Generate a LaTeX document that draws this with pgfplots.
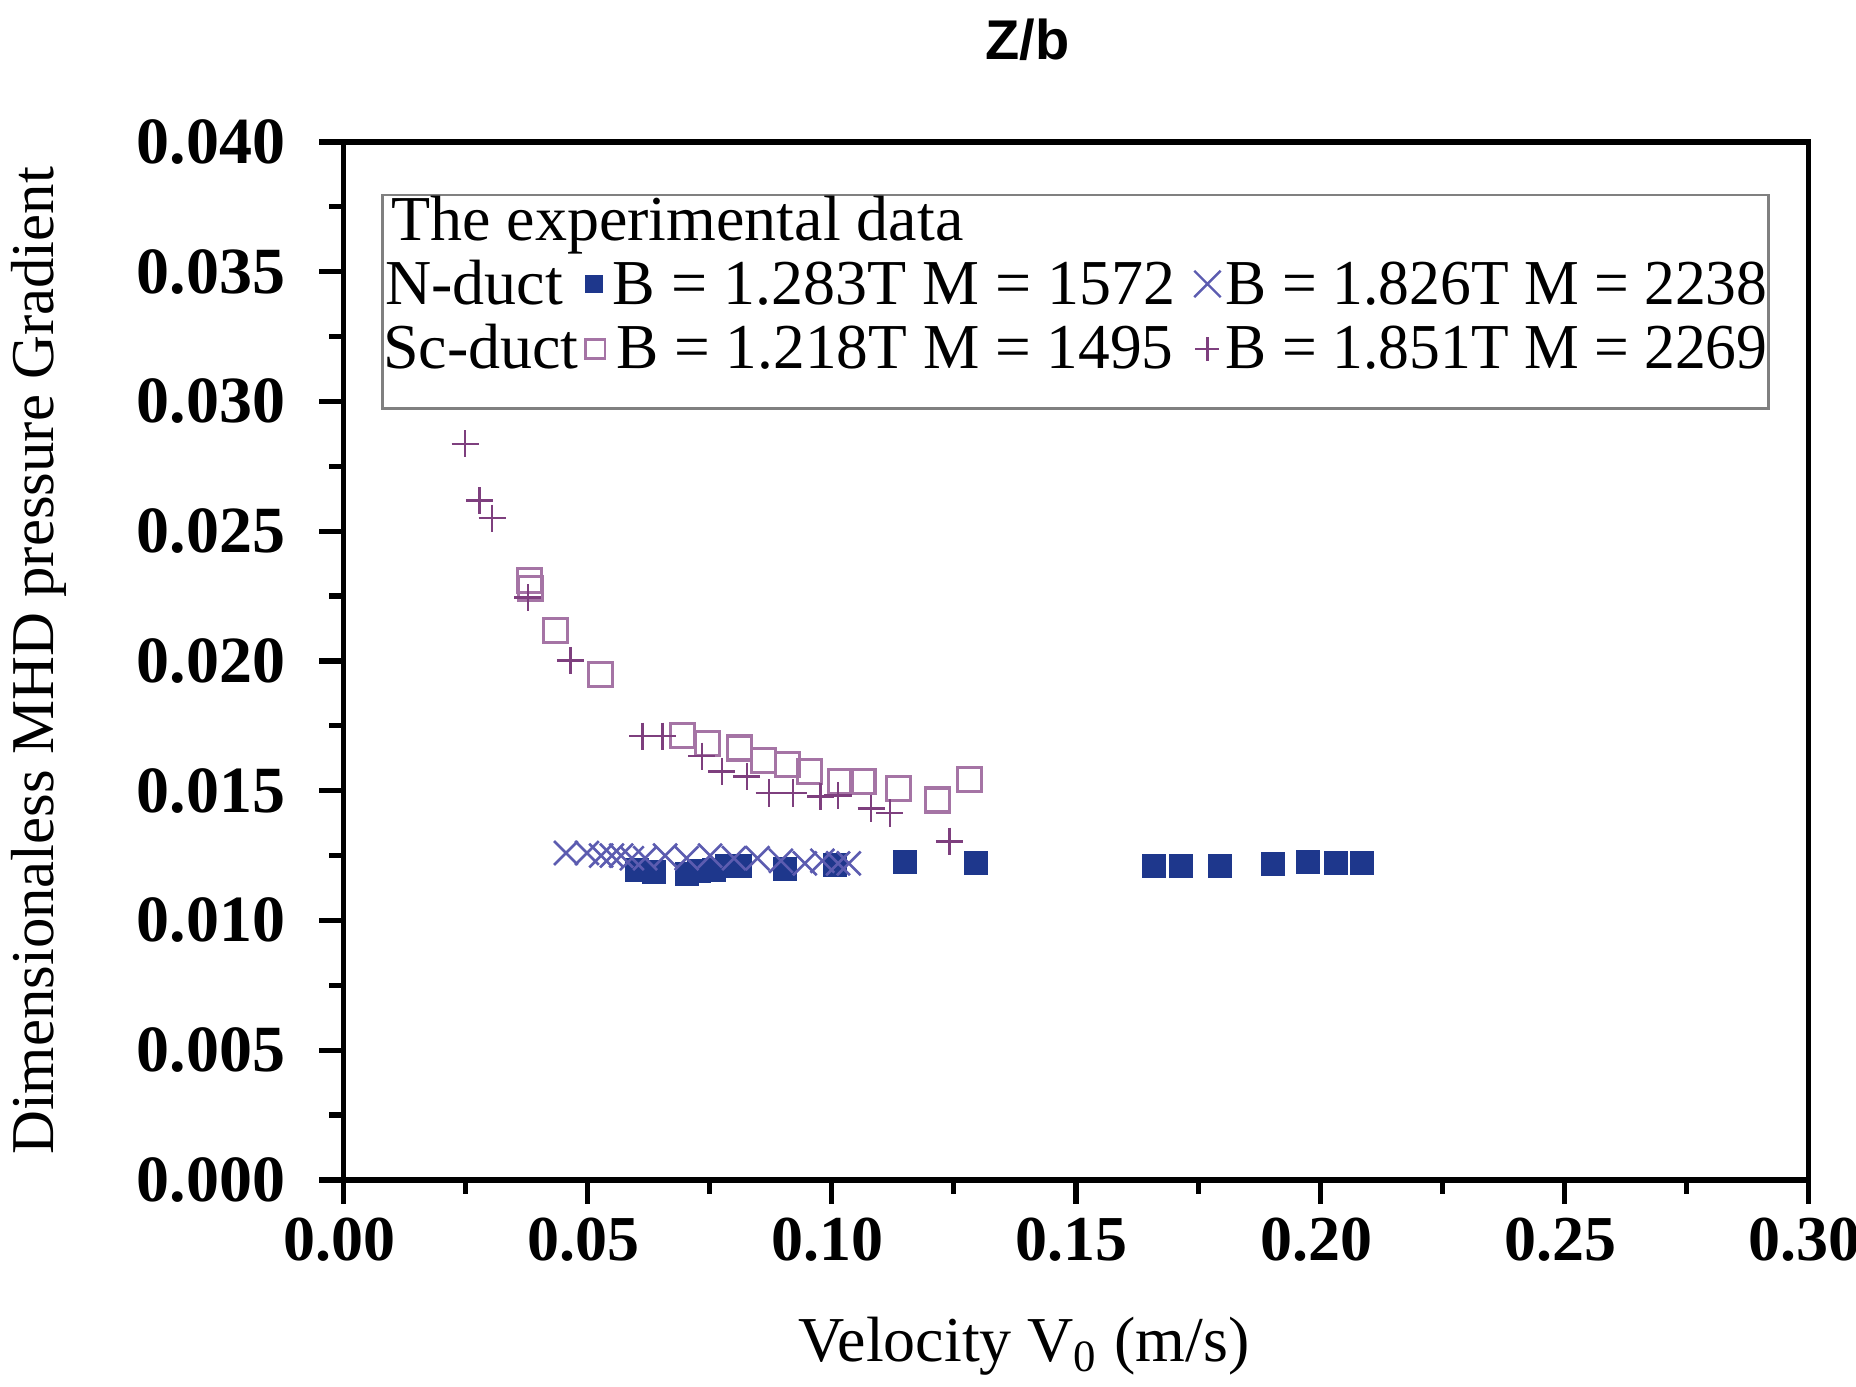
\documentclass[border=0pt]{standalone}
\usepackage{fontspec}
\setmainfont{Liberation Serif}
\newfontfamily\titlefont{Liberation Sans}
\usepackage{pgfplots}
\pgfplotsset{compat=1.18}
\definecolor{nav}{HTML}{1E378C}
\definecolor{xcol}{HTML}{5C5CB0}
\definecolor{sqcol}{HTML}{A574A5}
\definecolor{pcol}{HTML}{7E3F7E}
\newcommand\legfont{\fontsize{16}{19}\selectfont}
\begin{document}
\begin{tikzpicture}
\begin{axis}[
  at={(0,0)}, anchor=south west,
  scale only axis, width=366.4pt, height=259.5pt,
  xmin=0, xmax=0.30, ymin=0, ymax=0.040,
  xtick={0,0.05,...,0.30}, ytick={0,0.005,...,0.040},
  minor x tick num=1, minor y tick num=1,
  tick align=outside, xtick pos=bottom, ytick pos=left,
  major tick length=6pt, minor tick length=3.5pt,
  axis line style={line width=1.3pt},
  every tick/.style={black, line width=1.3pt},
  /pgf/number format/assume math mode=true,
  xticklabel style={/pgf/number format/fixed, /pgf/number format/precision=2, /pgf/number format/fixed zerofill, font=\fontsize{16}{20}\selectfont\bfseries, xshift=-1pt},
  yticklabel style={/pgf/number format/fixed, /pgf/number format/precision=3, /pgf/number format/fixed zerofill, font=\fontsize{16.5}{20}\selectfont\bfseries, xshift=-5pt},
  scaled ticks=false,
  xlabel={Velocity V\textsubscript{0} (m/s)},
  xlabel style={at={(axis description cs:0.4645,-0.1745)}, anchor=base, font=\fontsize{16}{19}\selectfont},
  ylabel={Dimensionaless MHD pressure Gradient},
  ylabel style={at={(axis description cs:-0.198,0.5)}, anchor=base, rotate=0, font=\fontsize{15.2}{19}\selectfont},
  title={Z/b},
  title style={at={(axis description cs:0.467,1.0798)}, anchor=base, yshift=-6pt, font=\titlefont\bfseries\fontsize{14}{17}\selectfont},
  clip=false,
]
\addplot[only marks, mark=square*, mark size=2.8pt, color=nav] coordinates {
(0.0601,0.01195)(0.0637,0.01186)(0.0703,0.01181)(0.0729,0.01190)(0.0758,0.01195)(0.0785,0.01209)(0.0812,0.01209)(0.0904,0.01200)(0.1006,0.01213)(0.1151,0.01227)(0.1296,0.01222)(0.1660,0.01210)(0.1715,0.01209)(0.1795,0.01211)(0.1904,0.01218)(0.1975,0.01227)(0.2033,0.01222)(0.2086,0.01222)
};
\addplot[only marks, mark=x, mark size=4.2pt, color=xcol, mark options={line width=0.65pt}] coordinates {
(0.0456,0.0126)(0.0499,0.0126)(0.0528,0.0125)(0.0550,0.0125)(0.0569,0.0125)(0.0591,0.0124)(0.0618,0.0124)(0.0659,0.0125)(0.0703,0.0124)(0.0751,0.0125)(0.0800,0.0124)(0.0848,0.0124)(0.0896,0.0123)(0.0945,0.0122)(0.0981,0.0123)(0.1013,0.0122)(0.1035,0.0122)
};
\addplot[only marks, mark=square, mark size=3pt, color=sqcol, mark options={line width=0.8pt}] coordinates {
(0.0381,0.0231)(0.0384,0.0228)(0.0434,0.02116)(0.0526,0.01948)(0.0695,0.01712)(0.0746,0.01683)(0.0812,0.01665)(0.0860,0.01615)(0.0909,0.01601)(0.0955,0.01574)(0.1018,0.01537)(0.1064,0.01537)(0.1136,0.01510)(0.1216,0.01464)(0.1282,0.01542)
};
\addplot[only marks, mark=+, mark size=3.4pt, color=pcol, mark options={line width=0.6pt}] coordinates {
(0.02496,0.02837)(0.0279,0.02618)(0.0305,0.02550)(0.0378,0.02244)(0.0465,0.02002)(0.0613,0.01710)(0.0654,0.01710)(0.0734,0.01633)(0.0775,0.01574)(0.0826,0.01555)(0.0872,0.01491)(0.0921,0.01491)(0.0977,0.01478)(0.1013,0.01482)(0.1081,0.01432)(0.1119,0.01414)(0.1241,0.01305)
};
% legend box
\draw[gray, line width=0.6pt] (rel axis cs:0.0267,0.7434) rectangle (rel axis cs:0.9725,0.9487);
\node[anchor=base west, inner sep=0, font=\legfont] at (rel axis cs:0.0323,0.9054) {The experimental data};
\node[anchor=base west, inner sep=0, font=\legfont] at (rel axis cs:0.0283,0.8438) {N-duct};
\node[anchor=base west, inner sep=0, font=\legfont] at (rel axis cs:0.1834,0.8438) {B = 1.283T M = 1572};
\node[anchor=base west, inner sep=0, font=\legfont] at (rel axis cs:0.6018,0.8438) {\scalebox{0.962}[1]{B = 1.826T M = 2238}};
\node[anchor=base west, inner sep=0, font=\legfont] at (rel axis cs:0.0267,0.7822) {Sc-duct};
\node[anchor=base west, inner sep=0, font=\legfont] at (rel axis cs:0.1858,0.7822) {\scalebox{0.99}[1]{B = 1.218T M = 1495}};
\node[anchor=base west, inner sep=0, font=\legfont] at (rel axis cs:0.6018,0.7822) {\scalebox{0.962}[1]{B = 1.851T M = 2269}};
\fill[nav] (rel axis cs:0.1712,0.8632) ++(-2.3pt,-2.3pt) rectangle ++(4.6pt,4.6pt);
\draw[xcol, line width=0.6pt] (rel axis cs:0.5897,0.8632) ++(-3.3pt,-3.3pt) -- ++(6.6pt,6.6pt) ++(-6.6pt,0) -- ++(6.6pt,-6.6pt);
\draw[sqcol, line width=0.7pt] (rel axis cs:0.1721,0.8005) ++(-2.4pt,-2.4pt) rectangle ++(4.8pt,4.8pt);
\draw[pcol, line width=0.6pt] (rel axis cs:0.5897,0.8005) ++(-3pt,0) -- ++(6pt,0) ++(-3pt,-3pt) -- ++(0,6pt);
\end{axis}
\pgfresetboundingbox
\path[use as bounding box] (-85.8pt,-51.7pt) rectangle (378.2pt,295pt);
\end{tikzpicture}
\end{document}
